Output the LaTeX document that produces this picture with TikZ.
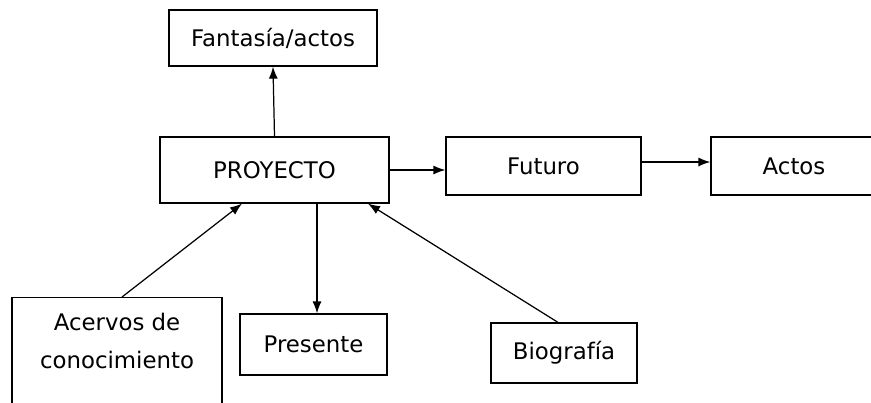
\documentclass[tikz,border=0pt]{standalone}
\usepackage{fontspec}
\setmainfont{DejaVu Sans}
\usepackage{tikz}
\usetikzlibrary{arrows.meta}
\tikzset{box/.style={draw,line width=0.7pt,font=\fontsize{13}{21.5}\selectfont},
    link/.style={draw,line width=0.7pt,-{Latex[length=2.4mm,width=1.8mm]}}}

\begin{document}
\begin{tikzpicture}
    \useasboundingbox (0,0) rectangle (17.42,-8.04);
    \node[box,minimum width=4.16cm,minimum height=1.12cm] (fantasia) at (5.46,-0.76) {Fantasía/actos};
    \node[box,minimum width=4.58cm,minimum height=1.32cm] (proyecto) at (5.49,-3.40) {PROYECTO};
    \node[box,minimum width=3.9cm,minimum height=1.16cm] (futuro) at (10.87,-3.32) {Futuro};
    \node[box,minimum width=3.32cm,minimum height=1.16cm] (actos) at (15.88,-3.32) {Actos};
    \node[box,anchor=north,minimum width=4.2cm,inner ysep=0.32cm,text depth=0.6cm,align=center] (acervos) at (2.34,-5.94) {Acervos de\\conocimiento};
    \node[box,minimum width=2.94cm,minimum height=1.22cm] (presente) at (6.27,-6.89) {Presente};
    \node[box,minimum width=2.92cm,minimum height=1.2cm] (biografia) at (11.28,-7.06) {Biografía};
    \path[link] (proyecto.north) -- (fantasia.south);
    \path[link] (proyecto.east) -- (proyecto.east -| futuro.west);
    \path[link] ([yshift=0.08cm]futuro.east) -- ([yshift=0.08cm]actos.west);
    \path[link] ([xshift=0.85cm]proyecto.south) -- ([xshift=0.85cm]proyecto.south |- presente.north);
    \path[link] ([xshift=0.1cm]acervos.north) -- ([xshift=-0.65cm]proyecto.south);
    \path[link] ([xshift=-0.12cm]biografia.north) -- ([xshift=1.87cm]proyecto.south);
\end{tikzpicture}
\end{document}
